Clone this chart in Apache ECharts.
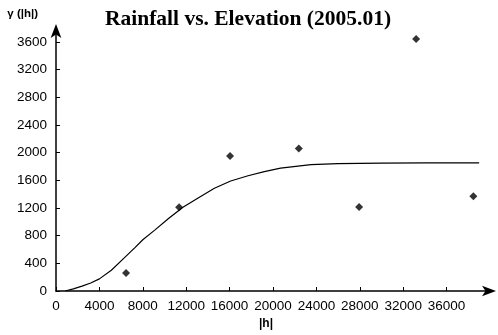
<!DOCTYPE html>
<html>
<head>
<meta charset="utf-8">
<script src="https://cdn.jsdelivr.net/npm/echarts@6/dist/echarts.min.js"></script>
<style>
html,body{margin:0;padding:0;background:#fff;}
#chart{width:498px;height:335px;}
</style>
</head>
<body>
<div id="chart"></div>
<script>
// Observed semivariance points
const lagH = [6460, 11350, 16040, 22380, 27940, 33190, 38470];
const gammaObs = [260, 1210, 1950, 2060, 1215, 3640, 1370];
// Fitted model curve
const curveH = [850, 1600, 2400, 3200, 4000, 5100, 6100, 7300, 8000, 9100, 10400, 11700, 13100, 14600, 16100, 17700, 19200, 20700, 22300, 23500, 26000, 30000, 34000, 39000];
const curveG = [0, 30, 70, 115, 175, 300, 450, 630, 740, 880, 1050, 1210, 1345, 1485, 1590, 1665, 1725, 1775, 1805, 1825, 1840, 1848, 1850, 1852];

const titleText = 'Rainfall vs. Elevation (2005.01)';
const xName = '|h|';
const yName = 'γ (|h|)';

const chart = echarts.init(document.getElementById('chart'), null, {renderer: 'canvas'});
const labelFont = {color: '#000', fontFamily: 'Liberation Sans, Arial, sans-serif', fontSize: 13.5};
const plain = v => String(v);
chart.setOption({
  animation: false,
  backgroundColor: '#fff',
  title: {
    text: titleText,
    left: 243, top: 3, textAlign: 'center',
    textStyle: {fontFamily: 'Liberation Serif, Times New Roman, serif', fontWeight: 'bold', fontSize: 21.5, color: '#000'}
  },
  grid: {left: 56, right: 8, top: 28, bottom: 44, containLabel: false},
  xAxis: {
    type: 'value', min: 0, max: 40000, interval: 4000,
    name: xName, nameLocation: 'middle', nameGap: 26,
    nameTextStyle: {color: '#000', fontFamily: 'Liberation Sans, Arial, sans-serif', fontSize: 12, fontWeight: 'bold', padding: [0, 14, 0, 0]},
    axisLine: {show: true, lineStyle: {color: '#000', width: 1.5}, symbol: ['none', 'arrow'], symbolSize: [8, 14], symbolOffset: [0, 6]},
    axisTick: {show: true, inside: true, length: 4, lineStyle: {color: '#000'}},
    axisLabel: Object.assign({margin: 8, showMaxLabel: false, formatter: plain}, labelFont),
    splitLine: {show: false}
  },
  yAxis: {
    type: 'value', min: 0, max: 3800, interval: 400,
    name: yName, nameLocation: 'end', nameGap: 8,
    nameTextStyle: {color: '#000', fontFamily: 'Liberation Sans, Arial, sans-serif', fontSize: 11.5, fontWeight: 'bold', align: 'right', padding: [0, 18, 0, 0]},
    axisLine: {show: true, lineStyle: {color: '#000', width: 1.5}, symbol: ['none', 'arrow'], symbolSize: [8, 14], symbolOffset: [0, 4]},
    axisTick: {show: true, inside: true, length: 4, lineStyle: {color: '#000'}},
    axisLabel: Object.assign({margin: 9, showMaxLabel: false, formatter: plain}, labelFont),
    splitLine: {show: false}
  },
  series: [
    {
      type: 'line',
      data: curveH.map((h, i) => [h, curveG[i]]),
      smooth: false, showSymbol: false, symbol: 'none',
      lineStyle: {color: '#000', width: 1.2},
      z: 2
    },
    {
      type: 'scatter',
      data: lagH.map((h, i) => [h, gammaObs[i]]),
      symbol: 'diamond', symbolSize: 8,
      itemStyle: {color: '#000'},
      z: 3
    }
  ]
});
</script>
</body>
</html>
